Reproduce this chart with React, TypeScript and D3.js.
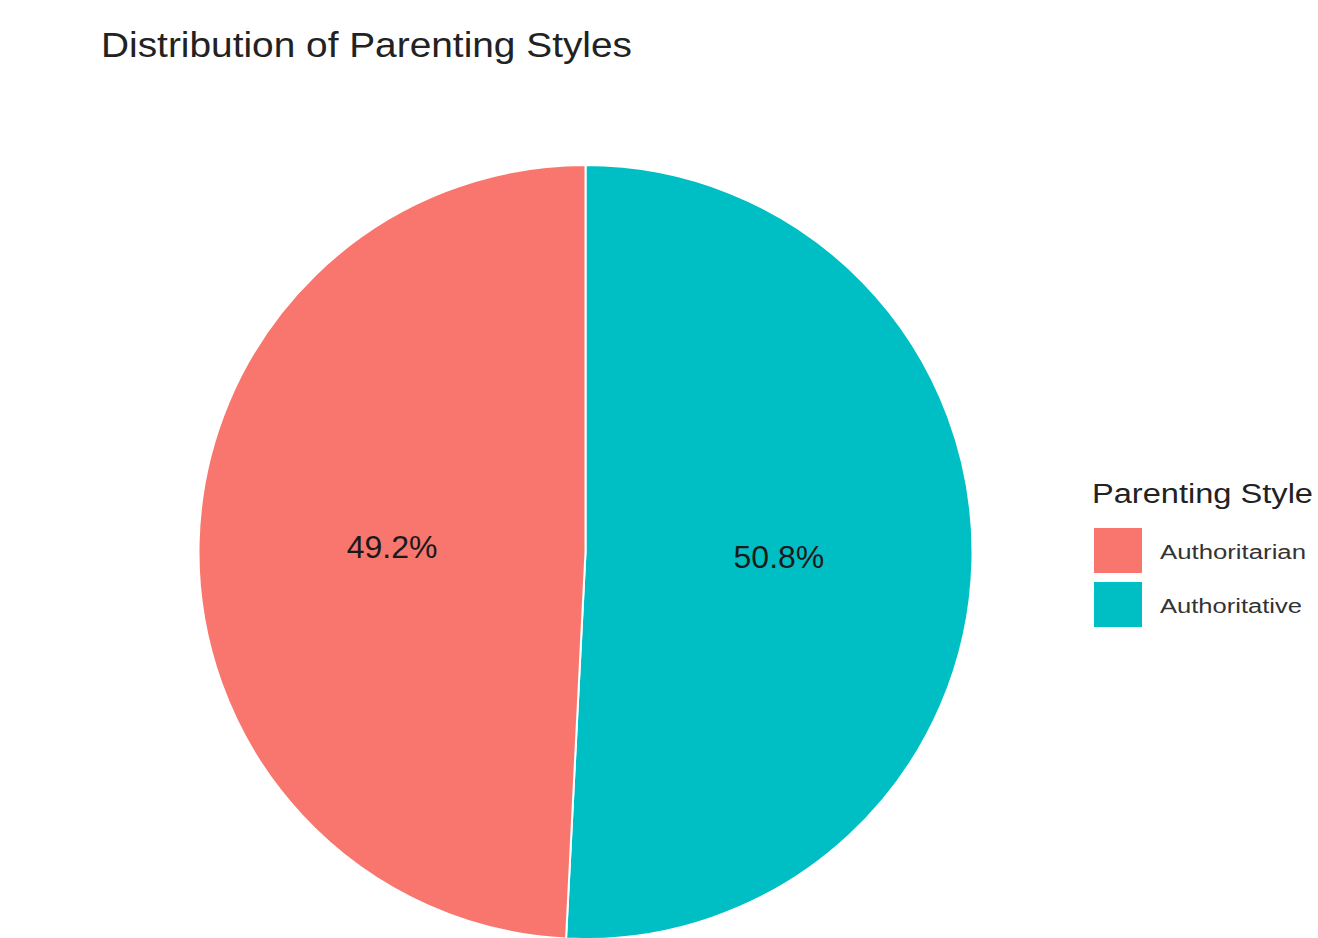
import React from "react";
import * as d3 from "d3";

const categories = ["Authoritative", "Authoritarian"];
const values = [50.8, 49.2];
const legendOrder = ["Authoritarian", "Authoritative"];
const colors: Record<string, string> = { Authoritarian: "#F8766D", Authoritative: "#00BFC4" };
const title = "Distribution of Parenting Styles";
const legendTitle = "Parenting Style";

export default function App() {
  const W = 1318, H = 938;
  const cx = 585.5, cy = 552, r = 387;
  const data = categories.map((c, i) => ({ cat: c, value: values[i] }));
  const pie = d3.pie<any>().sort(null).value((d: any) => d.value).startAngle(0).endAngle(2 * Math.PI);
  const arcs = pie(data);
  const arc = d3.arc<any>().innerRadius(0).outerRadius(r);
  const legendTextLen: Record<string, number> = { Authoritarian: 146, Authoritative: 142 };
  return (
    <svg width={W} height={H} style={{ position: "absolute", left: 0, top: 0, background: "#fff" }}
      fontFamily="'Liberation Sans', Arial, sans-serif">
      <text x={101} y={57} fontSize={35} fill="#222" textLength={531} lengthAdjust="spacingAndGlyphs">{title}</text>
      <g transform={`translate(${cx},${cy})`}>
        {arcs.map((a: any) => (
          <path key={a.data.cat} d={arc(a) as string} fill={colors[a.data.cat]} stroke="#fff" strokeWidth={2} />
        ))}
        {arcs.map((a: any) => {
          const [x, y] = arc.centroid(a);
          return (
            <text key={"l" + a.data.cat} x={x} y={y} fontSize={32} fill="#1a1a1a" textAnchor="middle" dominantBaseline="central">
              {a.data.value.toFixed(1) + "%"}
            </text>
          );
        })}
      </g>
      <g>
        <text x={1092} y={503} fontSize={27} fill="#222" textLength={221} lengthAdjust="spacingAndGlyphs">{legendTitle}</text>
        {legendOrder.map((c, i) => (
          <g key={c} transform={`translate(1094,${528 + i * 54})`}>
            <rect width={48} height={45} fill={colors[c]} />
            <text x={66} y={31} fontSize={20} fill="#333" textLength={legendTextLen[c]} lengthAdjust="spacingAndGlyphs">{c}</text>
          </g>
        ))}
      </g>
    </svg>
  );
}
